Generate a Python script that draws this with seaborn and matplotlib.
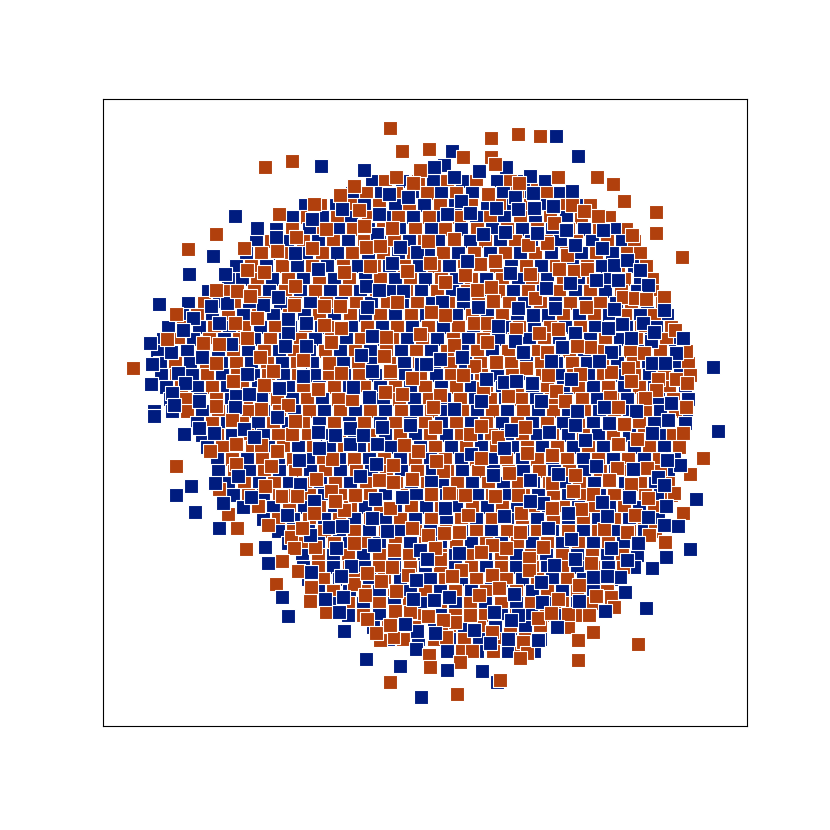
import matplotlib
matplotlib.use("Agg")
import matplotlib.pyplot as plt
import pandas as pd
import seaborn as sns

blue_points = [
(321,166),(235,216),(213,256),(189,274),(225,274),(159,304),(257,228),(364,170),(389,194),(408,197),(342,209),(379,214),(312,219),(377,234),(276,237),(400,247),(417,252),(295,253),(318,269),(392,263),(366,286),(379,290),(403,291),(278,297),(227,303),(211,306),(263,305),(367,307),(193,318),(219,323),(288,319),(306,323),(183,330),(288,333),(150,343),(171,352),(285,346),(306,346),(231,344),(372,336),(361,355),(202,357),(152,364),(178,373),(247,374),(303,376),(372,371),(151,384),(185,383),(172,393),(279,388),(199,401),(236,396),(249,394),(174,405),(369,397),(235,407),(353,387),(421,364),(154,411),
(556,136),(578,156),(530,176),(452,151),(444,165),(434,167),(479,171),(506,167),(454,177),(572,191),(533,193),(515,197),(553,206),(534,208),(461,201),(496,208),(518,209),(470,213),(447,214),(566,230),(537,233),(505,232),(483,234),(603,230),(602,248),(575,245),(467,261),(614,265),(627,260),(640,270),(510,273),(596,280),(618,280),(648,285),(570,283),(546,288),(463,294),(442,302),(478,307),(518,308),(555,308),(614,309),(664,310),(533,315),(622,324),(643,323),(498,326),(608,328),(575,333),(631,338),(651,341),(654,332),(515,341),(683,338),(523,352),(562,347),(676,353),(611,352),(599,361),(652,363),(665,363),(440,359),(462,357),(713,367),(504,382),(516,381),(532,383),(486,379),(571,379),(541,401),(671,403),(604,407),(454,409),(577,411),(636,411),(481,401),(551,361),(426,364),
(154,416),(184,434),(199,428),(214,433),(244,429),(254,437),(277,417),(318,432),(335,435),(350,428),(350,444),(363,435),(382,427),(377,444),(410,425),(319,448),(299,460),(376,464),(360,476),(300,484),(238,476),(215,483),(191,486),(176,495),(195,512),(251,497),(223,503),(314,501),(287,515),(375,499),(402,497),(219,528),(329,527),(342,526),(310,535),(387,531),(374,545),(336,548),(265,547),(268,563),(311,572),(351,566),(341,576),(282,597),(325,599),(343,597),(288,616),(339,612),(344,631),(366,659),(400,666),(420,697),(416,649),(417,631),(405,624),(413,599),(420,550),(427,560),(372,518),(416,580),
(668,420),(718,431),(511,430),(549,432),(585,440),(609,423),(575,425),(652,433),(504,448),(471,454),(596,466),(633,469),(658,477),(680,465),(667,460),(530,480),(558,474),(493,475),(431,482),(664,485),(696,499),(629,497),(666,506),(445,508),(543,503),(530,501),(602,502),(607,516),(568,513),(648,517),(664,525),(678,526),(504,516),(548,528),(571,539),(638,543),(611,548),(459,553),(690,549),(666,557),(627,560),(575,559),(554,565),(427,559),(652,568),(620,577),(593,577),(607,576),(541,582),(449,597),(434,600),(542,602),(514,594),(625,592),(646,608),(494,612),(518,615),(511,620),(557,627),(605,611),(474,630),(435,633),(508,639),(538,640),(490,643),(447,670),(482,671),(497,682),(421,697),(579,601),
]
orange_points = [
(390,128),(402,151),(292,161),(265,167),(216,234),(188,249),(133,368),(420,170),(396,177),(413,183),(354,186),(340,195),(314,204),(279,214),(359,210),(364,226),(392,228),(326,229),(296,237),(244,248),(277,251),(312,248),(366,247),(380,246),(247,270),(264,272),(344,272),(370,266),(407,271),(295,286),(237,291),(216,290),(250,296),(294,305),(324,306),(340,306),(397,302),(176,314),(257,318),(235,323),(324,325),(341,328),(167,339),(247,338),(203,343),(219,344),(331,342),(386,337),(420,334),(260,357),(303,360),(329,363),(216,363),(384,356),(273,371),(341,373),(390,371),(412,378),(233,381),(264,385),(318,389),(385,392),(402,394),(352,399),(216,406),(261,409),(288,405),
(491,138),(518,134),(540,136),(597,177),(613,184),(624,201),(656,212),(656,233),(682,257),(632,235),(558,177),(463,157),(491,157),(495,164),(429,149),(488,194),(519,183),(572,205),(584,211),(598,216),(554,223),(528,245),(547,243),(567,255),(454,239),(495,261),(480,264),(430,263),(465,275),(445,282),(530,274),(559,269),(574,271),(587,269),(477,290),(491,287),(535,298),(623,297),(635,298),(646,299),(664,297),(586,307),(493,301),(445,315),(431,312),(474,323),(487,323),(516,329),(539,333),(558,329),(675,330),(454,345),(487,342),(590,347),(577,346),(547,352),(644,353),(686,351),(496,362),(474,366),(526,368),(611,372),(628,368),(548,375),(580,374),(463,375),(631,381),(658,379),(676,379),(687,383),(483,388),(556,391),(656,390),(645,398),(610,397),(440,395),(508,396),(433,407),(686,407),(565,401),(618,407),(428,241),
(176,466),(210,451),(236,464),(236,444),(232,420),(292,434),(295,421),(277,451),(261,445),(271,466),(332,459),(316,479),(265,486),(219,489),(282,496),(295,495),(331,491),(355,495),(379,480),(393,482),(412,479),(404,445),(418,451),(393,465),(228,514),(258,506),(268,525),(237,528),(246,549),(291,537),(294,548),(315,547),(354,543),(344,510),(390,508),(412,528),(282,561),(298,571),(276,584),(311,587),(310,601),(326,612),(354,584),(367,573),(381,581),(396,591),(394,550),(392,567),(408,575),(367,619),(395,611),(410,612),(393,637),(380,640),(376,633),(390,682),(390,625),(365,595),(314,513),(302,528),(297,496),(335,501),
(435,427),(470,434),(481,426),(525,427),(498,437),(527,453),(552,455),(624,424),(618,444),(637,439),(683,433),(703,458),(690,474),(647,468),(617,468),(609,480),(631,484),(575,475),(552,483),(509,473),(443,471),(436,461),(481,458),(573,491),(593,494),(648,498),(674,493),(683,513),(635,515),(518,495),(495,496),(449,493),(431,494),(465,495),(468,515),(521,513),(581,509),(627,532),(604,529),(665,542),(649,535),(520,532),(459,532),(444,533),(428,535),(506,548),(492,545),(481,552),(543,547),(440,559),(435,548),(461,570),(591,563),(529,558),(529,570),(492,575),(452,576),(499,588),(479,595),(579,585),(558,599),(596,596),(611,597),(614,607),(568,614),(589,615),(538,618),(551,613),(470,615),(455,622),(443,620),(428,616),(492,632),(593,632),(578,640),(446,637),(523,642),(527,653),(520,658),(638,644),(578,660),(472,651),(460,662),(429,655),(457,694),(500,680),(430,667),(552,508),
]

under_y = [181,193,205,217,229,241,253,266,279,291,303,315,327,339,351,363,375,387,399,411,423,435,447,459,471,483,495,507,519,531,543,555,567,579,591,603,615,627,639,651]
under_blue_x = [
[372,402,433,462,497,524,545],
[352,381,412,441,472,503,531,560],
[305,336,364,395,424,455,487,513,546,576],
[292,322,351,384,413,443,476,504,535,566,597],
[276,309,338,368,399,431,461,492,522,552,584,614],
[256,287,318,348,379,409,438,470,500,531,560,592,622],
[246,277,306,337,368,398,428,458,490,520,551,581,612],
[236,266,297,327,358,389,419,449,480,511,541,572,602,634],
[228,242,272,303,334,365,395,425,456,486,518,547,578,609,640],
[208,238,269,300,330,360,391,421,452,483,513,543,575,605,637],
[188,219,249,280,310,341,371,402,432,463,493,524,555,585,616,647],
[182,212,243,273,304,334,365,395,426,456,487,517,548,579,609,640,667],
[168,199,229,260,290,321,351,382,412,443,473,504,534,565,595,626,656],
[163,193,224,254,285,315,346,376,407,437,468,498,529,559,590,620,651,678],
[157,187,218,248,279,309,340,370,401,431,462,492,523,553,584,614,645,675],
[160,190,221,251,282,312,343,373,404,434,465,495,526,556,587,617,648,678],
[161,192,222,253,283,314,344,375,405,436,466,497,527,558,588,619,649,680],
[166,197,227,258,288,319,349,380,410,441,471,502,532,563,593,624,654,685],
[170,200,231,261,292,322,353,383,414,444,475,505,536,566,597,627,658,688],
[172,202,233,263,294,324,355,385,416,446,477,507,538,568,599,629,660,686],
[197,227,258,288,319,349,380,410,441,471,502,532,563,593,624,654,685],
[202,232,263,293,324,354,385,415,446,476,507,537,568,598,629,659,680],
[207,237,268,298,329,359,390,420,451,481,512,542,573,603,634,664],
[217,247,278,308,339,369,400,430,461,491,522,552,583,613,644,674],
[218,249,279,310,340,371,401,432,462,493,523,554,584,615,645,668],
[228,259,289,320,350,381,411,442,472,503,533,564,594,625,655],
[233,263,294,324,355,385,416,446,477,507,538,568,599,629,660],
[243,273,304,334,365,395,426,456,487,517,548,578,609,639,664],
[263,293,324,354,385,415,446,476,507,537,568,598,629,658],
[278,308,339,369,400,430,461,491,522,552,583,613,644],
[288,318,349,379,410,440,471,501,532,562,593,623],
[302,333,363,394,424,455,485,516,546,577,607,637],
[303,333,364,394,425,455,486,516,547,577,608,634],
[308,339,369,400,430,461,491,522,552,583,613],
[318,349,379,410,440,471,501,532,562,593],
[333,363,394,424,455,485,516,546,577,603],
[348,379,409,440,470,501,531,562,589],
[373,403,434,464,495,525,556],
[388,418,449,479,510,540],
[447,477,508,534],
]
under_orange_x = [
[385,418,447,476,510,537],
[366,396,427,456,487,517,546],
[320,350,379,409,440,471,500,530,561,590],
[307,337,368,398,429,459,490,520,550,581,609],
[292,323,353,383,415,445,477,507,537,568,599,626],
[271,303,333,364,394,424,454,485,515,546,576,607,634],
[261,291,322,352,383,413,443,474,505,535,566,596,627,640],
[251,282,312,343,374,404,434,464,496,526,556,587,618,646],
[257,288,319,349,380,410,441,471,502,532,563,593,624,652],
[223,254,285,315,345,376,406,437,467,498,528,559,590,621,652],
[204,234,264,295,326,356,387,417,448,478,509,540,570,600,631,662],
[197,228,258,289,319,350,380,411,441,472,502,533,563,594,625,654],
[183,214,244,275,305,336,367,397,428,458,489,519,550,580,611,641,671],
[178,209,239,270,300,331,361,392,422,453,483,514,544,575,605,636,666],
[172,203,233,264,294,325,355,386,416,447,477,508,538,569,599,630,660,686],
[175,206,236,267,297,328,358,389,419,450,480,511,541,572,602,633,663,688],
[176,207,237,268,298,329,359,390,420,451,481,512,542,573,603,634,664,690],
[181,212,242,273,303,334,364,395,425,456,486,517,547,578,608,639,669],
[185,216,246,277,307,338,368,399,429,460,490,521,551,582,612,643,673],
[187,218,248,279,309,340,370,401,431,462,492,523,553,584,614,645,675],
[212,242,273,303,334,364,395,425,456,486,517,547,578,608,639,669],
[217,247,278,308,339,369,400,430,461,491,522,552,583,613,644,673],
[222,252,283,313,344,374,405,435,466,496,527,557,588,618,649,679],
[232,262,293,323,354,384,415,445,476,506,537,567,598,628,659],
[234,264,295,325,356,386,417,447,478,508,539,569,600,630,660],
[244,274,305,335,366,396,427,457,488,518,549,579,610,640,668],
[248,279,309,340,370,401,431,462,492,523,553,584,614,645,671],
[258,289,319,350,380,411,441,472,502,533,563,594,624,654],
[278,309,339,370,400,431,461,492,522,553,583,614,644],
[293,324,354,385,415,446,476,507,537,568,598,629,655],
[303,334,364,395,425,456,486,517,547,578,608,638],
[318,348,379,409,440,470,501,531,562,592,622],
[318,349,379,410,440,471,501,532,562,593,623],
[323,354,384,415,445,476,506,537,567,598],
[333,364,394,425,455,486,516,547,577,607],
[348,379,409,440,470,501,531,562,592],
[363,394,424,455,485,516,546,577],
[388,418,449,479,510,540,568],
[403,434,464,495,525],
[462,493,521],
]

def table(points, name, layer):
    frame = pd.DataFrame(points, columns=["x", "y"])
    frame["group"] = name
    frame["layer"] = layer
    frame["order"] = (frame.index + 0.5) / len(frame)
    return frame

def rows(ys, xs):
    return [(x, y) for y, row in zip(ys, xs) for x in row]

data = pd.concat([
    table(rows(under_y, under_blue_x), "blue", 0),
    table(rows(under_y, under_orange_x), "orange", 0),
    table(blue_points, "blue", 1),
    table(orange_points, "orange", 1),
]).sort_values(["layer", "order"])

fig = plt.figure(figsize=(8.3, 8.3), dpi=100)
ax = fig.add_axes([0.1243, 0.1253, 0.7757, 0.7556])
sns.scatterplot(data=data, x="x", y="y", hue="group", marker="s", s=100, linewidth=0.8, edgecolor="white",
                palette={"blue": "#001c7f", "orange": "#b1400d"}, legend=False, ax=ax)
ax.set_xlim(103, 747)
ax.set_ylim(726, 99)
ax.set_xticks([])
ax.set_yticks([])
ax.set_xlabel("")
ax.set_ylabel("")
fig.savefig("out.png", dpi=100)
